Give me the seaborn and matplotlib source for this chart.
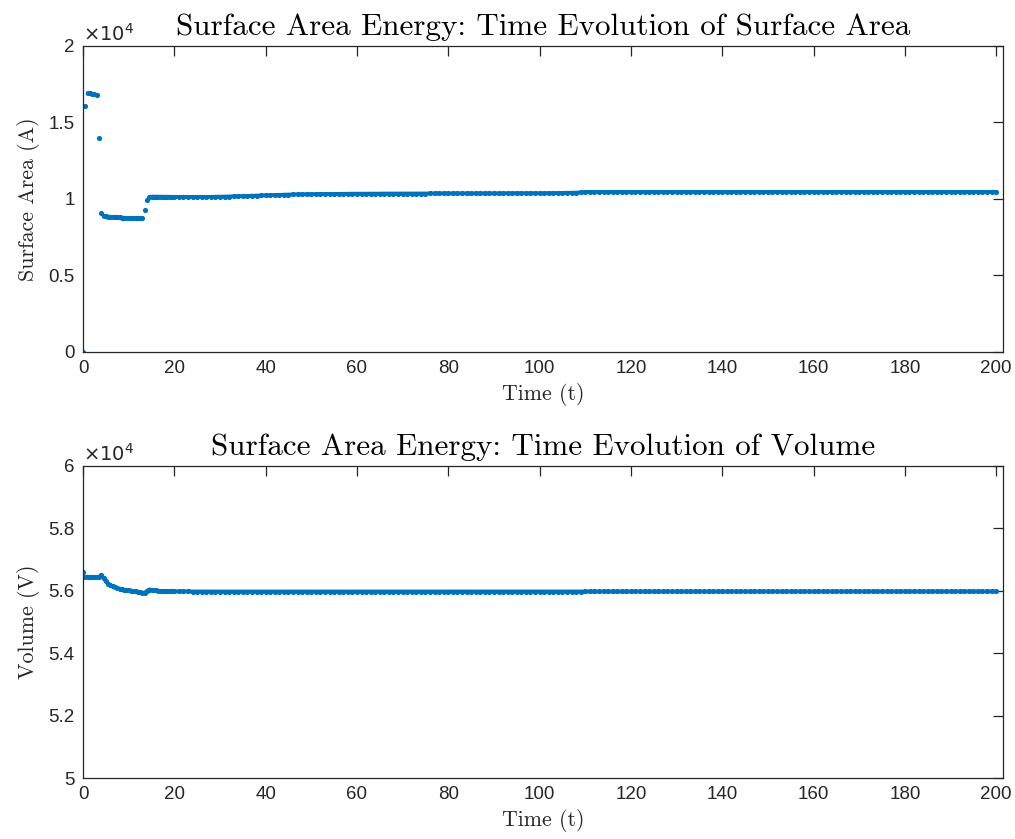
import numpy as np
import pandas as pd
import matplotlib
matplotlib.use("Agg")
import matplotlib.pyplot as plt
import seaborn as sns
from matplotlib.ticker import FuncFormatter

# ---------------- data ----------------
# early phase, sampled every 0.5 time units (t = 0 .. 19.5)
t_early = [0.0, 0.5, 1.0, 1.5, 2.0, 2.5, 3.0, 3.5, 4.0, 4.5,
           5.0, 5.5, 6.0, 6.5, 7.0, 7.5, 8.0, 8.5, 9.0, 9.5,
           10.0, 10.5, 11.0, 11.5, 12.0, 12.5, 13.0, 13.5, 14.0, 14.5,
           15.0, 15.5, 16.0, 16.5, 17.0, 17.5, 18.0, 18.5, 19.0, 19.5]
area_early = [0, 16100, 16900, 16900, 16870, 16830, 16780, 14000, 9060, 8890,
              8860, 8840, 8830, 8820, 8810, 8800, 8790, 8780, 8770, 8760,
              8750, 8745, 8740, 8735, 8730, 8725, 8730, 9300, 9950, 10100,
              10150, 10150, 10150, 10145, 10145, 10140, 10140, 10140, 10135, 10135]
vol_early = [56600, 56450, 56450, 56440, 56440, 56440, 56440, 56440, 56510, 56400,
             56300, 56230, 56180, 56140, 56110, 56090, 56070, 56050, 56030, 56020,
             56010, 56000, 55990, 55980, 55960, 55950, 55940, 55940, 55990, 56040,
             56030, 56020, 56010, 56000, 55995, 55990, 55985, 55985, 55980, 55980]
# which visually connected run each early sample belongs to
area_run_early = [0, 1, 2, 2, 2, 2, 2, 3, 4, 5,
                  5, 5, 5, 5, 5, 5, 5, 5, 5, 5,
                  5, 5, 5, 5, 5, 5, 5, 6, 7, 8,
                  8, 8, 8, 8, 8, 8, 8, 8, 8, 8]

# later phase, sampled every time unit (t = 20 .. 200)
t_late = list(range(20, 201))
area_late = [
    10130, 10130, 10130, 10130, 10130, 10130, 10130, 10135, 10135, 10140,   # 20-29
    10145, 10150, 10160, 10170, 10180, 10190, 10200, 10210, 10220, 10230,   # 30-39
    10240, 10250, 10260, 10270, 10280, 10290, 10295, 10300, 10305, 10310,   # 40-49
    10315, 10320, 10320, 10325, 10325, 10330, 10330, 10335, 10335, 10340,   # 50-59
    10340, 10340, 10345, 10345, 10345, 10350, 10350, 10350, 10350, 10350,   # 60-69
    10355, 10355, 10355, 10355, 10355, 10355, 10360, 10360, 10360, 10360,   # 70-79
    10360, 10360, 10360, 10360, 10365, 10365, 10365, 10365, 10365, 10365,   # 80-89
    10365, 10365, 10370, 10370, 10370, 10370, 10370, 10370, 10370, 10375,   # 90-99
    10375, 10375, 10380, 10380, 10385, 10390, 10395, 10400, 10410, 10430,   # 100-109
    10450, 10460, 10460, 10460, 10460, 10460, 10460, 10460, 10460, 10460,   # 110-119
    10460, 10460, 10460, 10460, 10460, 10460, 10460, 10460, 10460, 10460,   # 120-129
    10460, 10460, 10460, 10460, 10460, 10460, 10460, 10460, 10460, 10460,   # 130-139
    10460, 10460, 10460, 10460, 10460, 10460, 10460, 10460, 10460, 10460,   # 140-149
    10460, 10460, 10460, 10460, 10460, 10460, 10460, 10460, 10460, 10460,   # 150-159
    10460, 10460, 10460, 10460, 10460, 10460, 10460, 10460, 10460, 10460,   # 160-169
    10460, 10460, 10460, 10460, 10460, 10460, 10460, 10460, 10460, 10460,   # 170-179
    10460, 10460, 10460, 10460, 10460, 10460, 10460, 10460, 10460, 10460,   # 180-189
    10460, 10460, 10460, 10460, 10460, 10460, 10460, 10460, 10460, 10460,   # 190-199
    10460]                                                                  # 200
vol_late = [
    55980, 55980, 55978, 55978, 55977, 55977, 55976, 55976, 55976, 55975,   # 20-29
    55975, 55975, 55975, 55975, 55975, 55975, 55975, 55975, 55975, 55975,   # 30-39
    55975, 55975, 55975, 55975, 55975, 55975, 55975, 55975, 55975, 55975,   # 40-49
    55975, 55975, 55975, 55975, 55975, 55975, 55975, 55975, 55975, 55975,   # 50-59
    55975, 55975, 55975, 55975, 55975, 55975, 55975, 55975, 55975, 55975,   # 60-69
    55975, 55975, 55975, 55975, 55975, 55975, 55975, 55975, 55975, 55975,   # 70-79
    55975, 55975, 55975, 55975, 55975, 55975, 55975, 55975, 55975, 55975,   # 80-89
    55975, 55975, 55975, 55975, 55975, 55975, 55975, 55975, 55975, 55975,   # 90-99
    55975, 55975, 55975, 55975, 55975, 55975, 55975, 55975, 55976, 55977,   # 100-109
    55978, 55978, 55978, 55978, 55978, 55978, 55978, 55978, 55978, 55978,   # 110-119
    55978, 55978, 55978, 55978, 55978, 55978, 55978, 55978, 55978, 55978,   # 120-129
    55978, 55978, 55978, 55978, 55978, 55978, 55978, 55978, 55978, 55978,   # 130-139
    55978, 55978, 55978, 55978, 55978, 55978, 55978, 55978, 55978, 55978,   # 140-149
    55978, 55978, 55978, 55978, 55978, 55978, 55978, 55978, 55978, 55978,   # 150-159
    55978, 55978, 55978, 55978, 55978, 55978, 55978, 55978, 55978, 55978,   # 160-169
    55978, 55978, 55978, 55978, 55978, 55978, 55978, 55978, 55978, 55978,   # 170-179
    55978, 55978, 55978, 55978, 55978, 55978, 55978, 55978, 55978, 55978,   # 180-189
    55978, 55978, 55978, 55978, 55978, 55978, 55978, 55978, 55978, 55978,   # 190-199
    55978]                                                                  # 200

x_ticks = [0, 20, 40, 60, 80, 100, 120, 140, 160, 180, 200]
area_ticks = [0, 5000, 10000, 15000, 20000]
vol_ticks = [50000, 52000, 54000, 56000, 58000, 60000]

titles = ["Surface Area Energy: Time Evolution of Surface Area",
          "Surface Area Energy: Time Evolution of Volume"]
ylabels = ["Surface Area (A)", "Volume (V)"]
xlabel = "Time (t)"

# ---------------- figure ----------------
sns.set_theme(style="white")
plt.rcParams["font.family"] = ["Liberation Sans", "DejaVu Sans"]

df = pd.DataFrame({
    "t": t_early + t_late,
    "area": area_early + area_late,
    "vol": vol_early + vol_late,
    "area_run": area_run_early + [8] * len(t_late),
})
df["vol_run"] = np.where(df["t"] > 0, 1, 0)

fig = plt.figure(figsize=(10.15, 8.39), dpi=100)
ax1 = fig.add_axes([0.0818, 0.5805, 0.9064, 0.3647])
ax2 = fig.add_axes([0.0818, 0.0727, 0.9064, 0.3719])

blue = "#0072BD"
dark = "#262626"
serif = ["cmr10", "DejaVu Serif"]

for ax, col, run, ticks, ylab, title in [
        (ax1, "area", "area_run", area_ticks, ylabels[0], titles[0]),
        (ax2, "vol", "vol_run", vol_ticks, ylabels[1], titles[1])]:
    sns.lineplot(data=df, x="t", y=col, units=run, estimator=None, ax=ax,
                 color=blue, linewidth=2.8, legend=False)
    sns.scatterplot(data=df, x="t", y=col, ax=ax, color=blue, s=14,
                    linewidth=0, marker="o", legend=False)
    ax.set_xlim(0, 201.5)
    ax.set_ylim(ticks[0], ticks[-1])
    ax.set_xticks(x_ticks)
    ax.set_yticks(ticks)
    ax.yaxis.set_major_formatter(FuncFormatter(lambda v, p: "%g" % (v / 1e4)))
    ax.tick_params(direction="in", length=7, width=0.9, colors=dark,
                   labelsize=13.5, top=True, right=True, pad=6,
                   labelcolor=dark)
    for sp in ax.spines.values():
        sp.set_visible(True)
        sp.set_color(dark)
        sp.set_linewidth(0.9)
    ax.set_xlabel(xlabel, fontsize=15.8, color=dark, labelpad=4,
                  fontfamily=serif)
    ax.set_ylabel(ylab, fontsize=15.8, color=dark, labelpad=6,
                  fontfamily=serif)
    ax.set_title(title, fontsize=22.4, color="black", pad=8, fontfamily=serif)
    ax.text(0.0, 1.004, r"$\times10^{4}$", transform=ax.transAxes,
            fontsize=14, color=dark, ha="left", va="bottom",
            math_fontfamily="dejavusans")
    ax.grid(False)

fig.savefig("out.png", dpi=100, facecolor="white")
